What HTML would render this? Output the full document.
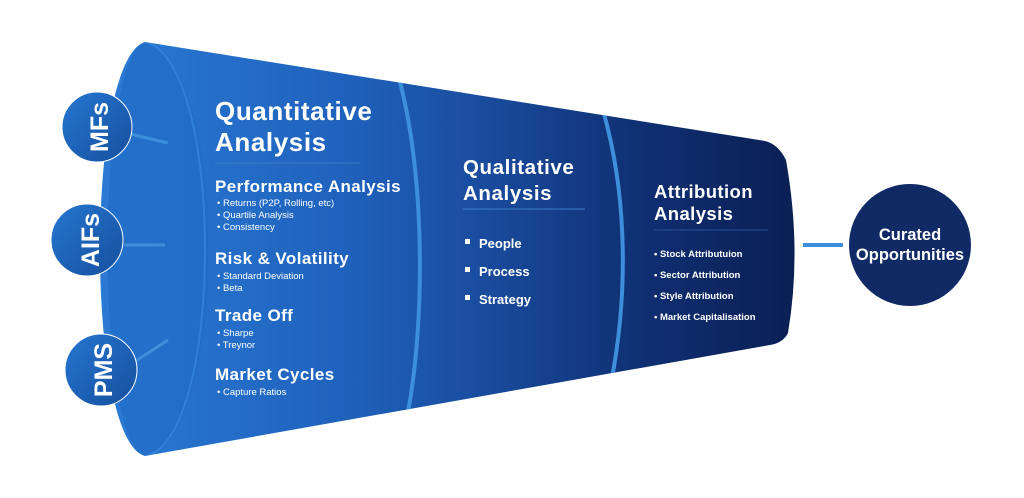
<!DOCTYPE html>
<html><head><style>html,body{margin:0;padding:0;background:#fff}svg{display:block}text{font-family:"Liberation Sans","DejaVu Sans",sans-serif;fill:#fff;font-weight:bold}</style></head>
<body>
<svg width="1024" height="498" viewBox="0 0 1024 498" xmlns="http://www.w3.org/2000/svg">
<defs>
<linearGradient id="g1" x1="0" x2="1" y1="0" y2="0"><stop offset="0" stop-color="#2a7ad4"/><stop offset="0.35" stop-color="#1f62bd"/><stop offset="0.55" stop-color="#1a4c9e"/><stop offset="0.78" stop-color="#0f2f72"/><stop offset="1" stop-color="#0b1f54"/></linearGradient>
<linearGradient id="gc" x1="0" x2="1" y1="0" y2="1"><stop offset="0" stop-color="#2576d0"/><stop offset="1" stop-color="#164f9e"/></linearGradient>
<clipPath id="cp"><path d="M145,42 L765,141 Q778,144 786,160 Q802,250 788,333 Q783,343 770,345 L145,456 C85,440 85,60 145,42 Z"/></clipPath>
</defs>
<path d="M145,42 L765,141 Q778,144 786,160 Q802,250 788,333 Q783,343 770,345 L145,456 C85,440 85,60 145,42 Z" fill="url(#g1)"/>
<g clip-path="url(#cp)">
<path d="M145,42 C230,60 230,440 145,456 C95,440 95,60 145,42 Z" fill="#1f6bc5" opacity="0.6"/>
<path d="M145,42 C225,60 225,440 145,456" fill="none" stroke="#3c8ee0" stroke-width="2" opacity="0.6"/>
<path d="M400,82 C425,180 425,320 408,412" fill="none" stroke="#3d8fdc" stroke-width="4"/>
<path d="M604,114 C628,200 628,300 610,388" fill="none" stroke="#3d8fdc" stroke-width="4"/>
</g>
<g stroke="#3d8fdc" stroke-width="3"><line x1="130" y1="134" x2="168" y2="143"/><line x1="124" y1="245" x2="165" y2="245"/><line x1="134" y1="362" x2="168" y2="340"/><line x1="803" y1="245" x2="843" y2="245" stroke-width="4"/></g>
<circle cx="97" cy="127" r="35" fill="url(#gc)" stroke="#fff" stroke-width="1"/>
<circle cx="87" cy="240" r="36" fill="url(#gc)" stroke="#fff" stroke-width="1"/>
<circle cx="101" cy="370" r="36" fill="url(#gc)" stroke="#fff" stroke-width="1"/>
<text transform="translate(108,127) rotate(-90)" text-anchor="middle" font-size="25">MFs</text>
<text transform="translate(99,240) rotate(-90)" text-anchor="middle" font-size="25">AIFs</text>
<text transform="translate(112,370) rotate(-90)" text-anchor="middle" font-size="25">PMS</text>
<circle cx="910" cy="245" r="61" fill="#102a66"/>
<text x="910" y="240" text-anchor="middle" font-size="16.5">Curated</text>
<text x="910" y="260" text-anchor="middle" font-size="16.5">Opportunities</text>
<text x="215" y="120" font-size="26" letter-spacing="0.6">Quantitative</text>
<text x="215" y="151" font-size="26" letter-spacing="0.6">Analysis</text>
<line x1="215" y1="163" x2="360" y2="163" stroke="#3d7cc8" stroke-width="1"/>
<g font-size="17" letter-spacing="0.4"><text x="215" y="192">Performance Analysis</text><text x="215" y="264">Risk &amp; Volatility</text><text x="215" y="321">Trade Off</text><text x="215" y="380">Market Cycles</text></g>
<g font-size="9.5"><text x="217" y="206" style="font-weight:normal">•  Returns (P2P, Rolling, etc)</text><text x="217" y="218" style="font-weight:normal">•  Quartile Analysis</text><text x="217" y="230" style="font-weight:normal">•  Consistency</text><text x="217" y="279" style="font-weight:normal">•  Standard Deviation</text><text x="217" y="291" style="font-weight:normal">•  Beta</text><text x="217" y="336" style="font-weight:normal">•  Sharpe</text><text x="217" y="348" style="font-weight:normal">•  Treynor</text><text x="217" y="395" style="font-weight:normal">•  Capture Ratios</text></g>
<text x="463" y="174" font-size="20.5" letter-spacing="0.6">Qualitative</text>
<text x="463" y="200" font-size="20.5" letter-spacing="0.6">Analysis</text>
<line x1="463" y1="209" x2="585" y2="209" stroke="#3d7cc8" stroke-width="1"/>
<g font-size="13"><rect x="465" y="239" width="5" height="5" fill="#fff"/><text x="479" y="248">People</text><rect x="465" y="267" width="5" height="5" fill="#fff"/><text x="479" y="276">Process</text><rect x="465" y="295" width="5" height="5" fill="#fff"/><text x="479" y="304">Strategy</text></g>
<text x="654" y="198" font-size="18.5" letter-spacing="0.4">Attribution</text>
<text x="654" y="220" font-size="18.5" letter-spacing="0.4">Analysis</text>
<line x1="654" y1="230" x2="768" y2="230" stroke="#2a4f98" stroke-width="1"/>
<g font-size="9.5"><text x="654" y="257">•   Stock Attributuion</text><text x="654" y="278">•   Sector Attribution</text><text x="654" y="299">•   Style Attribution</text><text x="654" y="320">•   Market Capitalisation</text></g>
</svg>
</body></html>
